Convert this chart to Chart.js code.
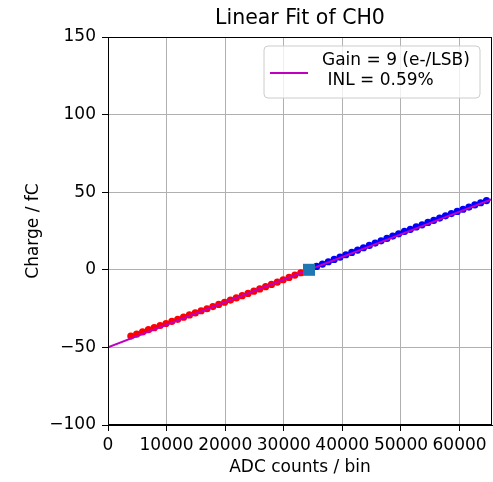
<!DOCTYPE html>
<html>
<head>
<meta charset="utf-8">
<script src="https://cdn.jsdelivr.net/npm/chart.js@4/dist/chart.umd.min.js"></script>
<style>
  html, body { margin: 0; padding: 0; background: #ffffff; overflow: hidden; }
  #wrap { width: 493px; height: 482px; }
  canvas { display: block; }
</style>
</head>
<body>
<div id="wrap"><canvas id="c" width="493" height="482"></canvas></div>
<script>
// ---- data ----
const chartTitle = "Linear Fit of CH0";
const xTitle = "ADC counts / bin";
const yTitle = "Charge / fC";
const legendLines = ["Gain = 9 (e-/LSB)", " INL = 0.59%"];

const fitX = [0, 65535];
const fitY = [-50, 45.5];

const lowX = [3900, 4900, 5900, 6900, 7900, 8900, 9900, 10900, 11900, 12900,
              13900, 14900, 15900, 16900, 17900, 18900, 19900, 20900, 21900, 22900,
              23900, 24900, 25900, 26900, 27900, 28900, 29900, 30900, 31900, 32900];
const lowY = [-42.7, -41.4, -40.0, -38.6, -37.3, -35.9, -34.6, -33.2, -31.9, -30.5,
              -29.1, -27.8, -26.4, -25.1, -23.7, -22.3, -20.9, -19.5, -18.1, -16.7,
              -15.2, -13.8, -12.3, -10.9, -9.4, -7.9, -6.4, -4.9, -3.4, -1.9];

const highX = [35600, 36600, 37600, 38600, 39600, 40600, 41600, 42600, 43600, 44600,
               45600, 46600, 47600, 48600, 49600, 50600, 51600, 52600, 53600, 54600,
               55600, 56600, 57600, 58600, 59600, 60600, 61600, 62600, 63600, 64600];
const highY = [2.2, 3.7, 5.2, 6.7, 8.2, 9.7, 11.2, 12.7, 14.2, 15.7,
               17.2, 18.7, 20.2, 21.7, 23.2, 24.7, 26.1, 27.6, 29.0, 30.5,
               31.9, 33.3, 34.8, 36.2, 37.6, 39.0, 40.4, 41.8, 43.2, 44.6];

const pivotX = [34300];
const pivotY = [0];

const xTicks = [0, 10000, 20000, 30000, 40000, 50000, 60000];
const yTicks = [-100, -50, 0, 50, 100, 150];

// ---- build ----
const pts = (xs, ys) => xs.map((x, i) => ({ x: x, y: ys[i] }));
const FONT = "'DejaVu Sans', 'Liberation Sans', sans-serif";
Chart.defaults.font.family = FONT;
Chart.defaults.color = '#000000';

const framePlugin = {
  id: 'frame',
  afterDraw(chart) {
    const { ctx, chartArea: a } = chart;
    ctx.save();
    // spines
    ctx.strokeStyle = '#000000';
    ctx.lineWidth = 1;
    ctx.strokeRect(Math.round(a.left) + 0.5, Math.round(a.top) + 0.5,
                   Math.round(a.right - a.left) - 1, Math.round(a.bottom - a.top) - 1);
    // title
    ctx.fillStyle = '#000000';
    ctx.font = "20.5px " + FONT;
    ctx.textAlign = 'center';
    ctx.textBaseline = 'middle';
    ctx.fillText(chartTitle, (a.left + a.right) / 2, 19);
    // legend
    const bx = a.right - 228, by = a.top + 9, bw = 216, bh = 52, r = 4;
    ctx.beginPath();
    ctx.moveTo(bx + r, by);
    ctx.lineTo(bx + bw - r, by);
    ctx.quadraticCurveTo(bx + bw, by, bx + bw, by + r);
    ctx.lineTo(bx + bw, by + bh - r);
    ctx.quadraticCurveTo(bx + bw, by + bh, bx + bw - r, by + bh);
    ctx.lineTo(bx + r, by + bh);
    ctx.quadraticCurveTo(bx, by + bh, bx, by + bh - r);
    ctx.lineTo(bx, by + r);
    ctx.quadraticCurveTo(bx, by, bx + r, by);
    ctx.closePath();
    ctx.fillStyle = 'rgba(255,255,255,0.8)';
    ctx.fill();
    ctx.strokeStyle = '#cccccc';
    ctx.stroke();
    ctx.beginPath();
    ctx.strokeStyle = '#bf00bf';
    ctx.lineWidth = 2;
    ctx.moveTo(bx + 6, by + 27);
    ctx.lineTo(bx + 44, by + 27);
    ctx.stroke();
    ctx.fillStyle = '#000000';
    ctx.font = "17px " + FONT;
    ctx.textAlign = 'left';
    ctx.textBaseline = 'middle';
    ctx.fillText(legendLines[0], bx + 58, by + 15);
    ctx.fillText(legendLines[1], bx + 58, by + 35);
    ctx.restore();
  }
};

new Chart(document.getElementById('c'), {
  type: 'scatter',
  data: {
    datasets: [
      { label: 'pivot', data: pts(pivotX, pivotY), backgroundColor: '#1f77b4', borderColor: '#1f77b4',
        pointStyle: 'rect', pointRadius: 8.5, borderWidth: 0, order: 0 },
      { label: 'fit', data: pts(fitX, fitY), showLine: true, borderColor: '#bf00bf', backgroundColor: '#bf00bf',
        borderWidth: 2, pointRadius: 0, order: 1 },
      { label: 'low', data: pts(lowX, lowY), backgroundColor: '#ff0000', borderColor: '#ff0000',
        pointRadius: 3.6, borderWidth: 0, order: 2 },
      { label: 'high', data: pts(highX, highY), backgroundColor: '#0000ff', borderColor: '#0000ff',
        pointRadius: 3.6, borderWidth: 0, order: 3 }
    ]
  },
  options: {
    responsive: false,
    animation: false,
    events: [],
    layout: { autoPadding: false, padding: { top: 37, right: 1, left: 0, bottom: 0 } },
    plugins: { legend: { display: false }, title: { display: false }, tooltip: { enabled: false } },
    scales: {
      x: {
        type: 'linear', min: 0, max: 65535,
        afterFit(s) { s.height = 57; s.paddingLeft = 0; s.paddingRight = 0; },
        afterBuildTicks(s) { s.ticks = xTicks.map(v => ({ value: v })); },
        ticks: { autoSkip: false, maxRotation: 0, minRotation: 0, padding: 4, color: '#000000',
                 font: { size: 17 }, callback: v => String(v) },
        grid: { color: '#b0b0b0', lineWidth: 1, tickColor: '#000000', tickLength: 6, drawTicks: true },
        border: { display: true, color: '#000000', width: 1 },
        title: { display: true, text: xTitle, color: '#000000', font: { size: 17 }, padding: { top: 0, bottom: 4 } }
      },
      y: {
        type: 'linear', min: -100, max: 150,
        afterFit(s) { s.width = 108; s.paddingTop = 0; s.paddingBottom = 0; },
        afterBuildTicks(s) { s.ticks = yTicks.map(v => ({ value: v })); },
        ticks: { autoSkip: false, padding: 6, color: '#000000', font: { size: 17 },
                 callback: v => String(v).replace('-', '\u2212') },
        grid: { color: '#b0b0b0', lineWidth: 1, tickColor: '#000000', tickLength: 6, drawTicks: true },
        border: { display: true, color: '#000000', width: 1 },
        title: { display: true, text: yTitle, color: '#000000', font: { size: 17 }, padding: { top: 23, bottom: 0 } }
      }
    }
  },
  plugins: [framePlugin]
});
</script>
</body>
</html>
